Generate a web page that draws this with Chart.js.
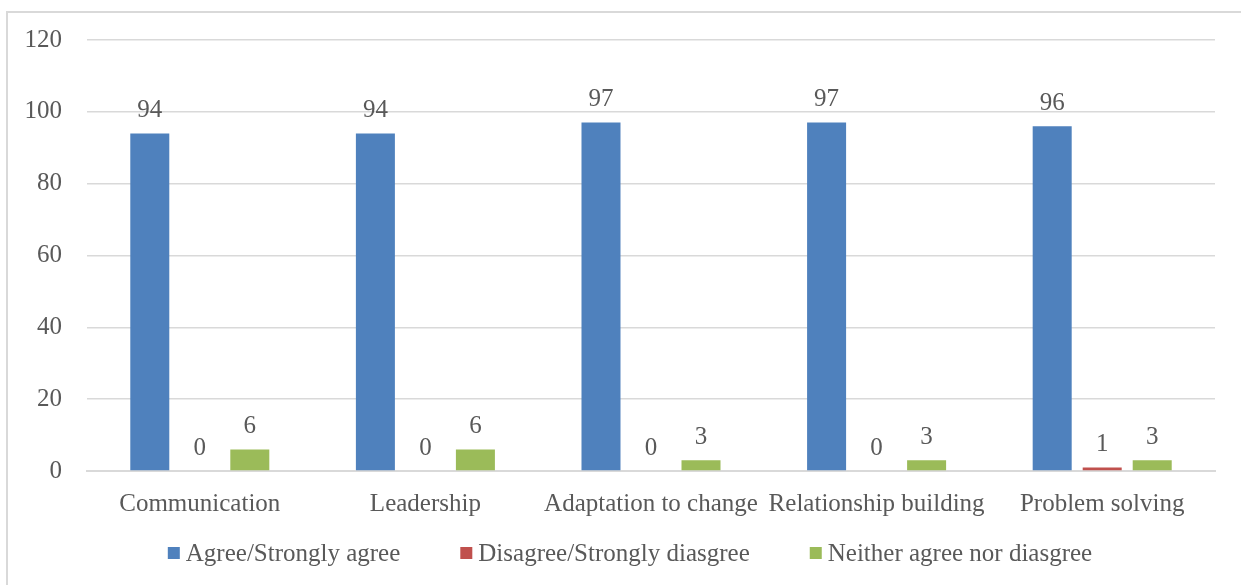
<!DOCTYPE html>
<html>
<head>
<meta charset="utf-8">
<script src="https://cdn.jsdelivr.net/npm/chart.js@4.4.1/dist/chart.umd.min.js"></script>
<style>
  html, body { margin: 0; padding: 0; background: #ffffff; overflow: hidden; }
  #wrap { position: relative; width: 1241px; height: 585px; }
  #frame {
    position: absolute; left: 6px; top: 11px; width: 1260px; height: 600px;
    border: 2px solid #d9d9d9; box-sizing: border-box;
  }
  #chart { position: absolute; left: 0; top: 0; }
</style>
</head>
<body>
<div id="wrap">
  <div id="frame"></div>
  <canvas id="chart" width="1241" height="585"></canvas>
</div>
<script>
// Survey results by skill area (percent of respondents)
const categories = ['Communication', 'Leadership', 'Adaptation to change', 'Relationship building', 'Problem solving'];
const agree = [94, 94, 97, 97, 96];
const disagree = [0, 0, 0, 0, 1];
const neither = [6, 6, 3, 3, 3];
const yTickValues = [0, 20, 40, 60, 80, 100, 120];

const seriesNames = ['Agree/Strongly agree', 'Disagree/Strongly diasgree', 'Neither agree nor diasgree'];
const seriesColors = ['#4f81bd', '#c0504d', '#9bbb59'];

const FONT = '"Liberation Serif", "Times New Roman", serif';
const TEXT = '#595959';
const GRID = '#d9d9d9';

// Writes each bar's value just above it
const valueLabels = {
  id: 'valueLabels',
  afterDatasetsDraw(chart) {
    const ctx = chart.ctx;
    ctx.save();
    ctx.font = '25px ' + FONT;
    ctx.fillStyle = TEXT;
    ctx.textAlign = 'center';
    ctx.textBaseline = 'middle';
    chart.data.datasets.forEach((ds, i) => {
      const meta = chart.getDatasetMeta(i);
      meta.data.forEach((bar, j) => {
        ctx.fillText(String(ds.data[j]), bar.x, bar.y - 23);
      });
    });
    ctx.restore();
  }
};

// Single-row legend under the axis: small square swatch, short gap, series name
const bottomLegend = {
  id: 'bottomLegend',
  afterDraw(chart) {
    const ctx = chart.ctx;
    const box = 12, gap = 6, spacing = 60, centerX = 630, centerY = 553;
    ctx.save();
    ctx.font = '25px ' + FONT;
    ctx.textBaseline = 'middle';
    ctx.textAlign = 'left';
    const items = chart.data.datasets.map(ds => ({
      text: ds.label, color: ds.backgroundColor, w: ctx.measureText(ds.label).width
    }));
    const total = items.reduce((s, it) => s + box + gap + it.w, 0) + spacing * (items.length - 1);
    let x = centerX - total / 2;
    items.forEach(it => {
      ctx.fillStyle = it.color;
      ctx.fillRect(x, centerY - box / 2, box, box);
      ctx.fillStyle = TEXT;
      ctx.fillText(it.text, x + box + gap, centerY + 1);
      x += box + gap + it.w + spacing;
    });
    ctx.restore();
  }
};

const values = [agree, disagree, neither];

new Chart(document.getElementById('chart'), {
  type: 'bar',
  data: {
    labels: categories,
    datasets: values.map((v, i) => ({
      label: seriesNames[i],
      data: v,
      backgroundColor: seriesColors[i],
      borderWidth: 0,
      categoryPercentage: 0.665,
      barPercentage: 0.78
    }))
  },
  options: {
    responsive: false,
    animation: false,
    devicePixelRatio: 1,
    layout: { padding: { top: 40, right: 26, bottom: 0, left: 0 } },
    plugins: {
      tooltip: { enabled: false },
      legend: { display: false }
    },
    scales: {
      x: {
        grid: { display: false, drawTicks: false },
        border: { color: GRID, width: 2 },
        ticks: { color: TEXT, font: { family: FONT, size: 25 }, padding: 18, maxRotation: 0, autoSkip: false },
        afterFit(scale) { scale.height = 114; }
      },
      y: {
        min: 0,
        max: 120,
        afterBuildTicks(scale) { scale.ticks = yTickValues.map(v => ({ value: v })); },
        grid: { color: GRID, lineWidth: 1.5, drawTicks: false },
        border: { display: false },
        ticks: { color: TEXT, font: { family: FONT, size: 25 }, padding: 25 },
        afterFit(scale) { scale.width = 87; }
      }
    }
  },
  plugins: [valueLabels, bottomLegend]
});
</script>
</body>
</html>
